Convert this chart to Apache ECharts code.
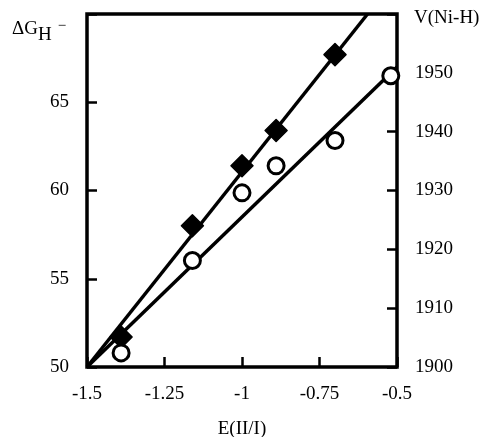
<!DOCTYPE html>
<html>
<head>
<meta charset="utf-8">
<script src="https://cdn.jsdelivr.net/npm/echarts@6/dist/echarts.min.js"></script>
<style>
  html, body { margin: 0; padding: 0; background: #fff; }
  #chart { width: 482px; height: 437px; }
</style>
</head>
<body>
<div id="chart"></div>
<script>
// E(II/I) potentials of the measured points
const ePoints = [-1.39, -1.16, -1.0, -0.89, -0.70, -0.52]
// filled diamonds: hydride donor ability, left axis
const dgValues = [51.7, 58.0, 61.4, 63.4, 67.7]
// open circles: Ni-H stretch, right axis
const nuValues = [1902.4, 1918.1, 1929.6, 1934.2, 1938.5, 1949.5]
// end points of the two fitted lines
const dgFitE = [-1.5, -0.595]
const dgFitY = [50, 70]
const nuFitE = [-1.5, -0.5]
const nuFitY = [1900, 1951]
// tick labels
const xTicks = [-1.5, -1.25, -1, -0.75, -0.5]
const leftTicks = [50, 55, 60, 65]
const rightTicks = [1900, 1910, 1920, 1930, 1940, 1950]

const font = 'Liberation Serif'
const chart = echarts.init(document.getElementById('chart'))

const pair = (xs, ys) => ys.map((y, i) => [xs[i], y])

const axisCommon = {
  axisLine: { show: false },
  axisTick: { show: true, inside: true, length: 10, lineStyle: { color: '#000', width: 2.5 } },
  splitLine: { show: false },
  axisLabel: { color: '#000', fontFamily: font, fontSize: 19 }
}

chart.setOption({
  animation: false,
  grid: {
    left: 87, right: 85, top: 14, bottom: 70,
    containLabel: false, outerBoundsMode: 'none',
    show: true, borderColor: '#000', borderWidth: 3.5
  },
  xAxis: {
    ...axisCommon,
    type: 'value', min: -1.5, max: -0.5, interval: 0.25,
    axisLabel: {
      ...axisCommon.axisLabel, margin: 18,
      formatter: v => xTicks.includes(+v.toFixed(2)) ? String(+v.toFixed(2)) : ''
    },
    name: 'E(II/I)', nameLocation: 'middle', nameGap: 53,
    nameTextStyle: { color: '#000', fontFamily: font, fontSize: 19 }
  },
  yAxis: [
    {
      ...axisCommon,
      type: 'value', min: 50, max: 70, interval: 5,
      axisLabel: {
        ...axisCommon.axisLabel, margin: 18,
        formatter: v => leftTicks.includes(v) ? String(v) : ''
      }
    },
    {
      ...axisCommon,
      type: 'value', min: 1900, max: 1960, interval: 10, position: 'right',
      axisLabel: {
        ...axisCommon.axisLabel, margin: 18,
        formatter: v => rightTicks.includes(v) ? String(v) : ''
      }
    }
  ],
  graphic: [
    {
      type: 'text', left: 12, top: 19,
      style: {
        text: 'ΔG{sub|H}{sup|−}',
        fill: '#000', font: '19px "Liberation Serif"',
        rich: {
          sub: { fontFamily: font, fontSize: 19, padding: [12, 0, 0, 0] },
          sup: { fontFamily: font, fontSize: 15, padding: [0, 0, 6, 6] }
        }
      }
    },
    {
      type: 'text', left: 414, top: 9,
      style: { text: 'V(Ni-H)', fill: '#000', font: '19px "Liberation Serif"' }
    }
  ],
  series: [
    {
      type: 'line', yAxisIndex: 0, data: pair(dgFitE, dgFitY),
      symbol: 'none', lineStyle: { color: '#000', width: 3.5 }, z: 2
    },
    {
      type: 'line', yAxisIndex: 1, data: pair(nuFitE, nuFitY),
      symbol: 'none', lineStyle: { color: '#000', width: 3.5 }, z: 2
    },
    {
      type: 'scatter', yAxisIndex: 0, data: pair(ePoints, dgValues),
      symbol: 'diamond', symbolSize: 22,
      itemStyle: { color: '#000', borderColor: '#000', borderWidth: 1.5, borderJoin: 'round', opacity: 1 }, z: 3
    },
    {
      type: 'scatter', yAxisIndex: 1, data: pair(ePoints, nuValues),
      symbol: 'circle', symbolSize: 16,
      itemStyle: { color: '#fff', borderColor: '#000', borderWidth: 3, opacity: 1 }, z: 3
    }
  ]
})
</script>
</body>
</html>
